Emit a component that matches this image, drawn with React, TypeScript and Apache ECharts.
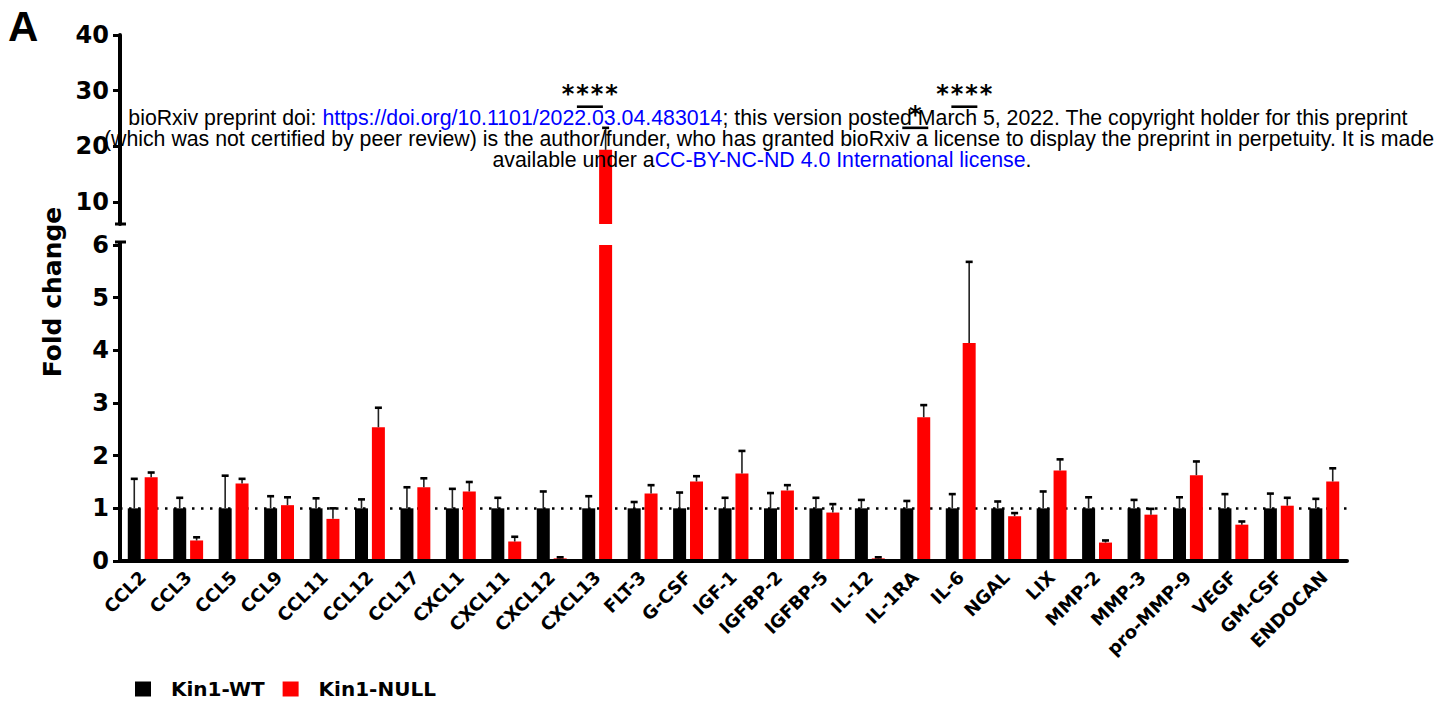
import React, { useEffect, useRef } from "react";
import * as echarts from "echarts";

const categories = [
  "CCL2", "CCL3", "CCL5", "CCL9", "CCL11", "CCL12", "CCL17", "CXCL1", "CXCL11", "CXCL12",
  "CXCL13", "FLT-3", "G-CSF", "IGF-1", "IGFBP-2", "IGFBP-5", "IL-12", "IL-1RA", "IL-6", "NGAL",
  "LIX", "MMP-2", "MMP-3", "pro-MMP-9", "VEGF", "GM-CSF", "ENDOCAN",
];

const wtMean = [1, 1, 1, 1, 1, 1, 1, 1, 1, 1, 1, 1, 1, 1, 1, 1, 1, 1, 1, 1, 1, 1, 1, 1, 1, 1, 1];
const wtSem = [
  0.56, 0.2, 0.62, 0.23, 0.19, 0.17, 0.4, 0.37, 0.2, 0.32, 0.23, 0.12, 0.3, 0.2, 0.29, 0.2, 0.16,
  0.14, 0.27, 0.13, 0.32, 0.21, 0.16, 0.21, 0.27, 0.28, 0.18,
];
const nullMean = [
  1.59, 0.39, 1.47, 1.06, 0.8, 2.54, 1.4, 1.32, 0.37, 0.05, 19.34, 1.28, 1.51, 1.66, 1.34, 0.92,
  0.05, 2.73, 4.14, 0.85, 1.72, 0.35, 0.88, 1.63, 0.69, 1.05, 1.51,
];
const nullSem = [
  0.09, 0.06, 0.09, 0.15, 0.2, 0.37, 0.17, 0.18, 0.09, 0.02, 3.96, 0.16, 0.1, 0.43, 0.1, 0.16,
  0.02, 0.23, 1.54, 0.06, 0.21, 0.04, 0.11, 0.26, 0.06, 0.15, 0.25,
];

const lowerTicks = [0, 1, 2, 3, 4, 5, 6];
const upperTicks = [10, 20, 30, 40];

// significance marks (drawn in upper panel scale)
const sigCategory = ["CXCL13", "IL-1RA", "IL-6"];
const sigLevel = [27.1, 23.3, 27.1];
const sigStars = [4, 1, 4];
const sigShift = [-0.16, 0, 0.08];

const seriesNames = ["Kin1-WT", "Kin1-NULL"];

const BAR_W = 13;
const BAR_GAP = 0.3;
const BOLD = '"DejaVu Sans", sans-serif';
const SANS = '"Liberation Sans", Arial, sans-serif';
const WM = 21.3;
const BREAK_LO = 6;
const BREAK_HI = 40;

export default function App() {
  const ref = useRef<HTMLDivElement>(null);

  useEffect(() => {
    if (!ref.current) return;
    const chart = echarts.init(ref.current, null, { renderer: "svg" });

    const errRender = (side: number) => (params: any, api: any) => {
      const base = api.coord([api.value(0), api.value(1)]);
      const top = api.coord([api.value(0), api.value(2)]);
      const x = base[0] + (side * BAR_W * (1 + BAR_GAP)) / 2;
      return {
        type: "group",
        children: [
          { type: "line", shape: { x1: x, y1: base[1], x2: x, y2: top[1] }, style: { stroke: "#222", lineWidth: 1.6 } },
          { type: "line", shape: { x1: x - 3.5, y1: top[1], x2: x + 3.5, y2: top[1] }, style: { stroke: "#000", lineWidth: 2.6 } },
        ],
      };
    };

    const errData = (means: number[], sems: number[], upper: boolean) =>
      categories
        .map((_, i) => [i, means[i], means[i] + sems[i]])
        .filter((d) => (upper ? d[1] > BREAK_LO : d[1] <= BREAK_LO));

    const clipLow = (arr: number[]) => arr.map((v) => (v > BREAK_LO ? v : "-"));

    const axisLineStyle = { color: "#000", width: 4 };

    const option: any = {
      animation: false,
      grid: [
        { left: 120, width: 1227, top: 245, height: 316 },
        { left: 120, width: 1227, top: 35, height: 189 },
      ],
      legend: {
        data: seriesNames,
        left: 135,
        top: 679,
        padding: 0,
        itemWidth: 16,
        itemHeight: 15,
        itemGap: 18,
        icon: "rect",
        textStyle: { fontFamily: BOLD, fontWeight: "bold", fontSize: 20, color: "#000", padding: [0, 0, 0, 15] },
      },
      xAxis: [
        {
          type: "category",
          gridIndex: 0,
          data: categories,
          z: 5,
          axisLine: { lineStyle: axisLineStyle },
          axisTick: { alignWithLabel: true, length: 7, lineStyle: { color: "#000", width: 3 } },
          axisLabel: {
            interval: 0,
            rotate: 45,
            margin: 13,
            fontFamily: BOLD,
            fontWeight: "bold",
            fontSize: 18,
            color: "#000",
          },
        },
        {
          type: "category",
          gridIndex: 1,
          data: categories,
          show: false,
        },
      ],
      yAxis: [
        {
          type: "value",
          gridIndex: 0,
          min: 0,
          max: 6,
          interval: 1,
          z: 5,
          splitLine: { show: false },
          axisLine: { show: true, lineStyle: axisLineStyle },
          axisTick: { show: true, length: 7, lineStyle: { color: "#000", width: 3 } },
          axisLabel: {
            margin: 11,
            fontFamily: BOLD,
            fontWeight: "bold",
            fontSize: 24,
            color: "#000",
            customValues: lowerTicks,
          },
        },
        {
          type: "value",
          gridIndex: 1,
          min: BREAK_LO,
          max: BREAK_HI,
          z: 5,
          splitLine: { show: false },
          axisLine: { show: true, lineStyle: axisLineStyle },
          axisTick: { show: true, length: 7, lineStyle: { color: "#000", width: 3 }, customValues: upperTicks },
          axisLabel: {
            margin: 11,
            fontFamily: BOLD,
            fontWeight: "bold",
            fontSize: 24,
            color: "#000",
            customValues: upperTicks,
          },
        },
      ],
      series: [
        {
          name: seriesNames[0],
          type: "bar",
          xAxisIndex: 0,
          yAxisIndex: 0,
          data: wtMean,
          barWidth: BAR_W,
          barGap: BAR_GAP * 100 + "%",
          itemStyle: { color: "#000" },
          z: 2,
          markLine: {
            silent: true,
            z: 1,
            symbol: ["none", "none"],
            label: { show: false },
            lineStyle: { color: "#000", type: [2.5, 6.5], width: 2.6 },
            data: [{ yAxis: 1 }],
          },
        },
        {
          name: seriesNames[1],
          type: "bar",
          xAxisIndex: 0,
          yAxisIndex: 0,
          data: nullMean,
          barWidth: BAR_W,
          barGap: BAR_GAP * 100 + "%",
          itemStyle: { color: "#ff0000" },
          z: 2,
        },
        {
          name: seriesNames[0],
          type: "bar",
          xAxisIndex: 1,
          yAxisIndex: 1,
          data: clipLow(wtMean),
          barWidth: BAR_W,
          barGap: BAR_GAP * 100 + "%",
          itemStyle: { color: "#000" },
          z: 2,
        },
        {
          name: seriesNames[1],
          type: "bar",
          xAxisIndex: 1,
          yAxisIndex: 1,
          data: clipLow(nullMean),
          barWidth: BAR_W,
          barGap: BAR_GAP * 100 + "%",
          itemStyle: { color: "#ff0000" },
          z: 2,
        },
        { name: "wt-err", type: "custom", xAxisIndex: 0, yAxisIndex: 0, clip: true, z: 3, renderItem: errRender(-1), data: errData(wtMean, wtSem, false) },
        { name: "null-err", type: "custom", xAxisIndex: 0, yAxisIndex: 0, clip: true, z: 3, renderItem: errRender(1), data: errData(nullMean, nullSem, false) },
        { name: "wt-err-up", type: "custom", xAxisIndex: 1, yAxisIndex: 1, clip: true, z: 3, renderItem: errRender(-1), data: errData(wtMean, wtSem, true) },
        { name: "null-err-up", type: "custom", xAxisIndex: 1, yAxisIndex: 1, clip: true, z: 3, renderItem: errRender(1), data: errData(nullMean, nullSem, true) },
        {
          name: "sig",
          type: "custom",
          xAxisIndex: 1,
          yAxisIndex: 1,
          z: 4,
          data: sigCategory.map((c, i) => [categories.indexOf(c), sigLevel[i]]),
          renderItem: (params: any, api: any) => {
            const i = params.dataIndex;
            const p = api.coord([api.value(0), api.value(1)]);
            const band = api.size([1, 0])[0];
            const cx = p[0] + sigShift[i] * band;
            const n = sigStars[i];
            const children: any[] = [
              { type: "line", shape: { x1: cx - 13, y1: p[1], x2: cx + 13, y2: p[1] }, style: { stroke: "#000", lineWidth: 2.6 } },
            ];
            for (let k = 0; k < n; k++) {
              children.push({
                type: "text",
                x: cx + (k - (n - 1) / 2) * 14.5,
                y: p[1] - 13,
                style: { text: "*", font: `bold 24px ${BOLD}`, fill: "#000", align: "center", verticalAlign: "middle" },
              });
            }
            return { type: "group", children };
          },
        },
      ],
      graphic: [
        { type: "text", left: 8, top: 5, style: { text: "A", font: `bold 42px ${SANS}`, fill: "#000" } },
        {
          type: "text",
          x: 52,
          y: 292,
          rotation: Math.PI / 2,
          style: { text: "Fold change", font: `bold 25px ${BOLD}`, fill: "#000", align: "center", verticalAlign: "middle" },
        },
        // axis break caps
        { type: "line", shape: { x1: 115, y1: 224, x2: 126, y2: 224 }, style: { stroke: "#000", lineWidth: 3 }, z: 10 },
        { type: "line", shape: { x1: 115, y1: 242, x2: 126, y2: 242 }, style: { stroke: "#000", lineWidth: 3 }, z: 10 },
        { type: "line", shape: { x1: 120, y1: 241, x2: 120, y2: 246 }, style: { stroke: "#000", lineWidth: 4 }, z: 10 },
        {
          type: "text",
          x: 768,
          y: 118,
          z: 20,
          style: {
            text: "{k|bioRxiv preprint doi: }{b|https://doi.org/10.1101/2022.03.04.483014}{k|; this version posted March 5, 2022. The copyright holder for this preprint}",
            align: "center",
            verticalAlign: "middle",
            rich: {
              k: { font: `${WM}px ${SANS}`, fill: "#000" },
              b: { font: `${WM}px ${SANS}`, fill: "#0000ff" },
            },
          },
        },
        {
          type: "text",
          x: 769,
          y: 139,
          z: 20,
          style: {
            text: "(which was not certified by peer review) is the author/funder, who has granted bioRxiv a license to display the preprint in perpetuity. It is made",
            font: `${WM}px ${SANS}`,
            fill: "#000",
            align: "center",
            verticalAlign: "middle",
          },
        },
        {
          type: "text",
          x: 762,
          y: 160,
          z: 20,
          style: {
            text: "{k|available under a}{b|CC-BY-NC-ND 4.0 International license}{k|.}",
            align: "center",
            verticalAlign: "middle",
            rich: {
              k: { font: `${WM}px ${SANS}`, fill: "#000" },
              b: { font: `${WM}px ${SANS}`, fill: "#0000ff" },
            },
          },
        },
      ],
    };

    chart.setOption(option);
    return () => chart.dispose();
  }, []);

  return <div ref={ref} style={{ position: "fixed", left: 0, top: 0, width: 1448, height: 705, background: "#fff" }} />;
}
